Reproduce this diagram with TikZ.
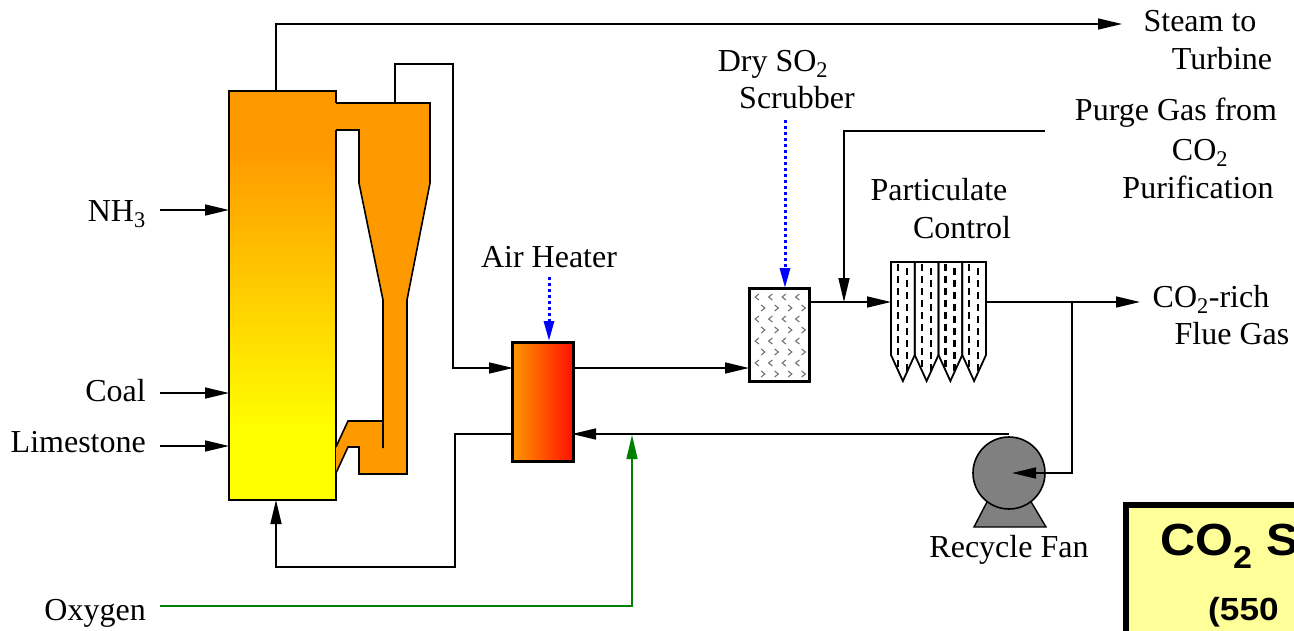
\documentclass[tikz,border=0pt]{standalone}
\usepackage{fontspec}
\setmainfont{Liberation Serif}
\setsansfont{Liberation Sans}
\usetikzlibrary{arrows.meta}
\definecolor{orange1}{HTML}{FF9900}
\definecolor{yellow1}{HTML}{FFFF00}
\definecolor{red1}{HTML}{FF1000}
\definecolor{green1}{HTML}{008000}
\definecolor{blue1}{HTML}{0000FF}
\definecolor{boxyellow}{HTML}{FFFF99}
\pgfdeclareverticalshading{combsh}{100bp}{color(0bp)=(yellow1); color(33.5bp)=(yellow1); color(68bp)=(orange1); color(100bp)=(orange1)}
\begin{document}
\begin{tikzpicture}[x=1pt,y=-1pt,
  line/.style={line width=1.6pt},
  flow/.style={line width=1.6pt,-{Triangle[length=24pt,width=11pt]}},
  bflow/.style={line width=3pt,blue1,dash pattern=on 3pt off 3pt,-{Triangle[length=20pt,width=10pt]}},
  gflow/.style={line width=1.6pt,green1,-{Triangle[length=24pt,width=11pt]}},
  lbl/.style={font=\fontsize{32}{38}\selectfont,anchor=base,inner sep=0pt},
  chev/.style={line width=1.1pt,black!55},
  unit/.style={draw,inner sep=0pt,line width=3pt}]
\useasboundingbox (0,0) rectangle (1294,630);
\begin{scope}
\clip (0,0) rectangle (1294,630);
% combustor
\node[draw,line width=1.8pt,inner sep=0pt,minimum width=107pt,minimum height=409pt,shade,shading=combsh] (comb) at (282.5,295.5) {};
% cyclone
\fill[orange1] (334,103) -- (430,103) -- (430,183) -- (407,300) -- (407,474) -- (359,474) -- (359,447) -- (348,447) -- (336,473) -- (336,447) -- (348,421) -- (383,421) -- (383,300) -- (359,183) -- (359,130) -- (334,130) -- cycle;
\draw[line,line join=miter] (336,103) -- (430,103) -- (430,183) -- (407,300) -- (407,474) -- (359,474) -- (359,447) -- (348,447) -- (336,473);
\draw[line] (336,447) -- (348,421) -- (383,421);
\draw[line] (383,448) -- (383,300) -- (359,183) -- (359,130) -- (336,130);
% air heater
\node[unit,minimum width=61pt,minimum height=119pt,left color=orange1,right color=red1] (heater) at (542.5,401.5) {};
% scrubber
\node[unit,minimum width=60pt,minimum height=93pt,fill=white] (scrub) at (779,334.5) {};
\foreach \r in {0,...,7}{\foreach \c in {0,...,3}{
  \pgfmathsetmacro{\xx}{757+\c*13.5+mod(\r,2)*6}
  \pgfmathsetmacro{\yy}{297+\r*11}
  \ifodd\r
    \draw[chev] (\xx-1.8,\yy-3) -- (\xx+1.8,\yy) -- (\xx-1.8,\yy+3);
  \else
    \draw[chev] (\xx+1.8,\yy-3) -- (\xx-1.8,\yy) -- (\xx+1.8,\yy+3);
  \fi}}
% particulate control
\node[inner sep=0pt,minimum width=95pt,minimum height=119pt] (pc) at (938.5,321.5) {};
\foreach \i in {0,1,2,3}{
  \pgfmathsetmacro{\xa}{891+\i*23.75}
  \pgfmathsetmacro{\xb}{\xa+23.75}
  \pgfmathsetmacro{\xm}{\xa+11.875}
  \begin{scope}
    \clip (\xa,262) -- (\xb,262) -- (\xb,355) -- (\xm,381) -- (\xa,355) -- cycle;
    \draw[line width=2.2pt,dash pattern=on 7pt off 5pt] (\xa+7,264) -- (\xa+7,380);
    \draw[line width=2.2pt,dash pattern=on 7pt off 5pt] (\xa+16,268) -- (\xa+16,380);
  \end{scope}
  \draw[line width=1.8pt,line join=miter] (\xa,262) -- (\xb,262) -- (\xb,355) -- (\xm,381) -- (\xa,355) -- cycle;
}
% recycle fan
\fill[black!50,draw=black,line width=1.4pt] (974,527) -- (1046,527) -- (1030,500) -- (988,500) -- cycle;
\node[circle,draw,line width=1.6pt,fill=black!50,minimum size=72pt,inner sep=0pt] (fan) at (1009,473) {};
% coordinates
\coordinate (steamout) at (276,91);
\coordinate (steamend) at (1122,24);
\coordinate (cycout) at (395,103);
\coordinate (hin) at (513,368);
\coordinate (hout) at (572,368);
\coordinate (sin) at (749,368);
\coordinate (sout) at (809,302);
\coordinate (pin) at (891,302);
\coordinate (pout) at (986,302);
\coordinate (tee) at (1072,302);
\coordinate (flueend) at (1140,302);
\coordinate (fanin) at (1012,473);
\coordinate (fantop) at (1009,434);
\coordinate (hrin) at (572,434);
\coordinate (hlout) at (513,434);
\coordinate (combin) at (276,500);
\coordinate (purge) at (1045,131);
\coordinate (purgein) at (844,302);
\coordinate (oxy) at (160,606);
\coordinate (oxyin) at (632,435);
\coordinate (ahlbl) at (549,277);
\coordinate (ahtop) at (549,341);
\coordinate (dslbl) at (785,120);
\coordinate (dstop) at (785,288);
% connectors
\draw[flow] (steamout) -- (276,24) -- (steamend);
\draw[flow] (cycout) -- (395,64) -- (453,64) -- (453,368) -- (hin);
\draw[flow] (hout) -- (sin);
\draw[flow] (sout) -- (pin);
\draw[flow] (purge) -- (844,131) -- (purgein);
\draw[line] (pout) -- (tee);
\draw[flow] (tee) -- (flueend);
\draw[flow] (tee) -- (1072,473) -- (fanin);
\draw[flow] (fantop) -- (hrin);
\draw[flow] (hlout) -- (455,434) -- (455,567) -- (276,567) -- (combin);
\draw[gflow] (oxy) -- (632,606) -- (oxyin);
\draw[bflow] (ahlbl) -- (ahtop);
\draw[bflow] (dslbl) -- (dstop);
\coordinate (nh3) at (160,210);
\coordinate (coal) at (160,393);
\coordinate (lime) at (160,446);
\draw[flow] (nh3) -- (229,210);
\draw[flow] (coal) -- (229,393);
\draw[flow] (lime) -- (229,446);
% labels
\node[lbl] (t1) at (1200,31) {Steam to};
\node[lbl] (t2) at (1222,69) {Turbine};
\node[lbl] (t3) at (773,71) {Dry SO\textsubscript{2}};
\node[lbl] (t4) at (797,108) {Scrubber};
\node[lbl] (t5) at (1176,120) {Purge Gas from};
\node[lbl] (t6) at (1200,160) {CO\textsubscript{2}};
\node[lbl] (t7) at (1198,198) {Purification};
\node[lbl] (t8) at (939,200) {Particulate};
\node[lbl] (t9) at (962,238) {Control};
\node[lbl] (t10) at (549,267) {Air Heater};
\node[lbl] (t11) at (1211,307) {CO\textsubscript{2}-rich};
\node[lbl] (t12) at (1232,344) {Flue Gas};
\node[lbl,anchor=base east] (t13) at (146,221) {NH\textsubscript{3}};
\node[lbl,anchor=base east] (t14) at (146,401) {Coal};
\node[lbl,anchor=base east] (t15) at (146,452) {Limestone};
\node[lbl,anchor=base east] (t16) at (146,620) {Oxygen};
\node[lbl] (t17) at (1009,557) {Recycle Fan};
% title box
\node[draw,line width=6pt,fill=boxyellow,inner sep=0pt,minimum width=300pt,minimum height=200pt,anchor=north west] (tbox) at (1123,502) {};
\node[font=\sffamily\bfseries\fontsize{45}{50}\selectfont,anchor=base west,inner sep=0pt] (tt1) at (1160,555) {\scalebox{1.08}[1]{CO\textsubscript{2} S}};
\node[font=\sffamily\bfseries\fontsize{32}{36}\selectfont,anchor=base west,inner sep=0pt] (tt2) at (1208,620) {\scalebox{1.1}[1]{(550}};
\end{scope}
\end{tikzpicture}
\end{document}
